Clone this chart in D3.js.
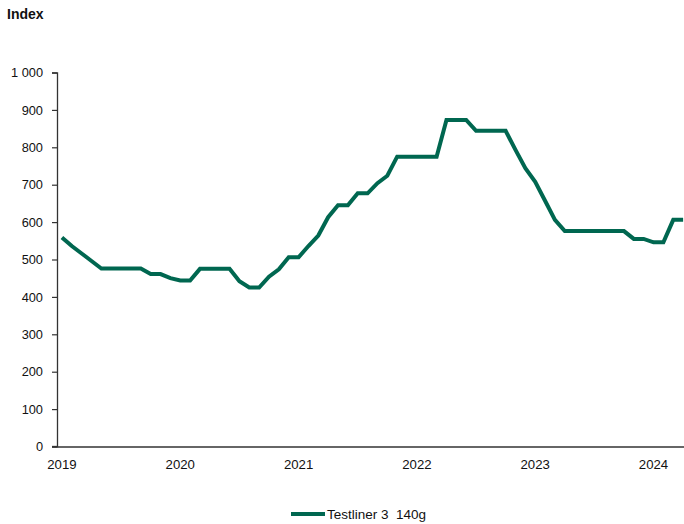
<!DOCTYPE html>
<html>
<head>
<meta charset="utf-8">
<script src="https://cdn.jsdelivr.net/npm/d3@7"></script>
<style>
  html, body { margin: 0; padding: 0; background: #fff; }
  svg { display: block; font-family: "Liberation Sans", Arial, sans-serif; }
</style>
</head>
<body>
<div id="chart"></div>
<script>
// ---- data ----
const startMonth = new Date(2019, 0, 1);
const endMonth = new Date(2024, 4, 1);
const months = d3.timeMonth.range(startMonth, endMonth); // Jan 2019 .. Apr 2024
const testliner = [
  559, 536, 516, 496, 476, 476, 476, 476, 476, 461, 461, 450,
  444, 444, 475, 475, 475, 475, 442, 425, 425, 454, 474, 506,
  506, 536, 564, 613, 645, 645, 677, 677, 704, 724, 775, 775,
  775, 775, 775, 873, 873, 873, 844, 844, 844, 844, 793, 744,
  708, 657, 606, 576, 576, 576, 576, 576, 576, 576, 555, 555,
  546, 546, 606, 606
];
const yTicks = [0, 100, 200, 300, 400, 500, 600, 700, 800, 900, 1000];
const xTickYears = [2019, 2020, 2021, 2022, 2023, 2024];
const seriesName = "Testliner 3  140g";
const yTitle = "Index";

// ---- layout ----
const W = 684, H = 524;
const mLeft = 57, mBottom = 446.5, mTop = 72.5;
const step = 9.86;
const color = "#006750";

const svg = d3.select("#chart").append("svg")
  .attr("width", W).attr("height", H);

const keys = months.map(d => d3.timeFormat("%Y-%m")(d));
const x = d3.scaleBand().domain(keys).range([mLeft, mLeft + step * keys.length]).paddingInner(0).paddingOuter(0);
const y = d3.scaleLinear().domain([0, 1000]).range([mBottom, mTop]);

// title
svg.append("text").attr("x", 7).attr("y", 18.5)
  .attr("font-size", 14).attr("font-weight", "bold").attr("fill", "#111")
  .text(yTitle);

// y axis
const yAxis = svg.append("g").attr("transform", `translate(${mLeft},0)`)
  .call(d3.axisLeft(y).tickValues(yTicks).tickSize(5).tickPadding(9)
    .tickFormat(d => d3.format(",")(d).replace(/,/g, " ")));
yAxis.select(".domain").attr("stroke", "#333").attr("stroke-width", 1.3);
yAxis.selectAll(".tick line").attr("stroke", "#333").attr("stroke-width", 1.2);
yAxis.selectAll("text").attr("font-size", 12.8).attr("fill", "#111")
  .attr("font-family", "Liberation Sans, Arial, sans-serif");

// x axis
const xTickKeys = xTickYears.map(yr => `${yr}-01`);
const xAxis = svg.append("g").attr("transform", `translate(0,${mBottom})`)
  .call(d3.axisBottom(x).tickValues(xTickKeys).tickSize(0).tickPadding(13)
    .tickFormat(k => k.slice(0, 4)));
xAxis.select(".domain").attr("stroke", "#333").attr("stroke-width", 1.3);
xAxis.selectAll("text").attr("font-size", 13.2).attr("fill", "#111")
  .attr("font-family", "Liberation Sans, Arial, sans-serif");
svg.append("line").attr("x1", mLeft - 5).attr("x2", mLeft).attr("y1", mBottom).attr("y2", mBottom)
  .attr("stroke", "#333").attr("stroke-width", 1.3);

// line
const data = keys.map((k, i) => ({ k, v: testliner[i] }));
const line = d3.line()
  .x(d => x(d.k) + x.bandwidth() / 2)
  .y(d => y(d.v));
svg.append("path").datum(data)
  .attr("d", line)
  .attr("fill", "none")
  .attr("stroke", color)
  .attr("stroke-width", 4)
  .attr("stroke-linejoin", "miter")
  .attr("stroke-linecap", "butt");

// legend
const lg = svg.append("g").attr("transform", "translate(291,514)");
lg.append("line").attr("x1", 0).attr("x2", 34).attr("y1", 0).attr("y2", 0)
  .attr("stroke", color).attr("stroke-width", 4);
lg.append("text").attr("x", 36).attr("y", 5)
  .attr("font-size", 13.5).attr("fill", "#111")
  .style("white-space", "pre")
  .text(seriesName);
</script>
</body>
</html>
